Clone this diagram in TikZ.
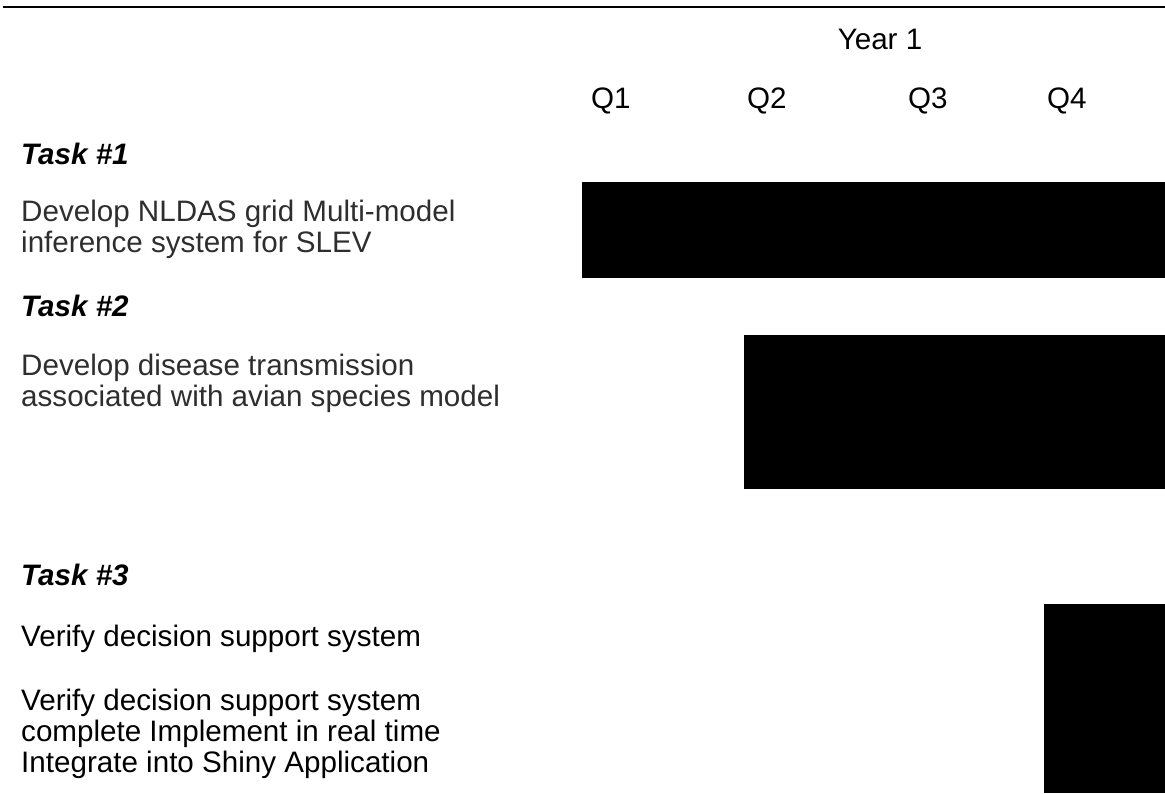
\documentclass[tikz,border=0pt]{standalone}
\usepackage{fontspec}
\setmainfont{Liberation Sans}
\usetikzlibrary{positioning}

\tikzset{
    tasktitle/.style = {anchor = base west, inner sep = 0pt, font = \fontsize{29.6}{31}\selectfont\bfseries\itshape},
    taskdesc/.style  = {anchor = base west, inner sep = 0pt, font = \fontsize{29.6}{31}\selectfont},
    qlabel/.style    = {anchor = base west, inner sep = 0pt, font = \fontsize{29.6}{31}\selectfont},
    ganttbar/.style  = {fill = black}
}

\begin{document}
\begin{tikzpicture}[x = 1pt, y = -1pt]
    \useasboundingbox (0,0) rectangle (1165,793);
    % header
    \draw[line width = 2.2pt] (3,7) -- (1165,7);
    \node[qlabel, anchor = base] (year) at (880,49) {Year 1};
    \node[qlabel] (q1) at (591,108) {Q1};
    \node[qlabel] (q2) at (747,108) {Q2};
    \node[qlabel] (q3) at (908,108) {Q3};
    \node[qlabel] (q4) at (1047,108) {Q4};
    % task 1
    \node[tasktitle] (t1) at (21,164) {Task \#1};
    \node[taskdesc, text = black!82] (t1a) at (21,221) {Develop NLDAS grid Multi-model};
    \node[taskdesc, text = black!82] (t1b) at (21,252) {inference system for SLEV};
    \fill[ganttbar] (582,182) rectangle (1165,278);
    % task 2
    \node[tasktitle] (t2) at (21,316) {Task \#2};
    \node[taskdesc, text = black!82] (t2a) at (21,375) {Develop disease transmission};
    \node[taskdesc, text = black!82] (t2b) at (21,406) {associated with avian species model};
    \fill[ganttbar] (744,335) rectangle (1165,489);
    % task 3
    \node[tasktitle] (t3) at (21,585) {Task \#3};
    \node[taskdesc] (t3a) at (21,646) {Verify decision support system};
    \node[taskdesc] (t3b) at (21,710) {Verify decision support system};
    \node[taskdesc] (t3c) at (21,741) {complete Implement in real time};
    \node[taskdesc] (t3d) at (21,772) {Integrate into Shiny Application};
    \fill[ganttbar] (1044,604) rectangle (1165,793);
\end{tikzpicture}
\end{document}
